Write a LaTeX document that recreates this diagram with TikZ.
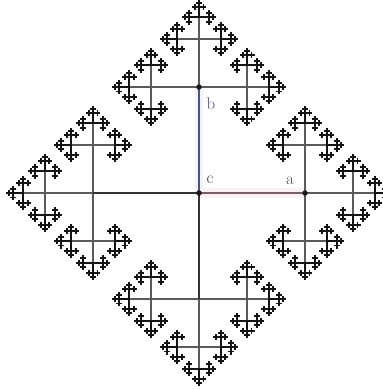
\documentclass[tikz,border=0pt]{standalone}
\usepackage{tikz}
\definecolor{linegray}{RGB}{90,90,90}
\definecolor{mauve}{RGB}{120,95,105}
\definecolor{slate}{RGB}{80,80,120}
\definecolor{pinkband}{RGB}{253,240,244}
\definecolor{blueband}{RGB}{242,242,253}
\tikzset{
  x=1pt, y=-1pt,
  branch/.style={draw=linegray, line width=1.4pt},
  leafbranch/.style={draw=black!92, line width=1.9pt},
  mainline/.style={draw=black!80, line width=1.6pt},
  junction/.style={circle, fill=black!90, inner sep=0pt, minimum size=5.5pt},
  lbl/.style={font=\fontsize{17}{17}\selectfont, inner sep=0pt},
}
\newcommand\fracbr[5]{%
  \ifnum#5>3\relax
    \draw[branch] (#1,#2) -- ++(#3,#4);
  \else
    \draw[leafbranch] (#1,#2) -- ++(#3,#4);
  \fi
  \ifnum#5>0\relax
  \begingroup
    \pgfmathsetmacro\fnx{#1+#3}%
    \pgfmathsetmacro\fny{#2+#4}%
    \pgfmathsetmacro\fdx{0.453*#3}%
    \pgfmathsetmacro\fdy{0.453*#4}%
    \pgfmathsetmacro\fmdx{-0.453*#3}%
    \pgfmathsetmacro\fmdy{-0.453*#4}%
    \pgfmathtruncatemacro\fnd{#5-1}%
    \edef\fnext{%
      \noexpand\fracbr{\fnx}{\fny}{\fdx}{\fdy}{\fnd}%
      \noexpand\fracbr{\fnx}{\fny}{\fmdy}{\fdx}{\fnd}%
      \noexpand\fracbr{\fnx}{\fny}{\fdy}{\fmdx}{\fnd}%
    }%
    \fnext
  \endgroup
  \fi}
\begin{document}
\begin{tikzpicture}
  \useasboundingbox (0,0) rectangle (383,389);
  \coordinate (c) at (199,193);
  \coordinate (a) at (305,193);
  \coordinate (b) at (199,87);
  \coordinate (l) at (93,193);
  \coordinate (d) at (199,299);
  % faint colour bands
  \draw[pinkband, line width=10pt, shift={(0,5)}] (c) -- (a);
  \draw[blueband, line width=8pt, shift={(-4,0)}] (c) -- (b);
  % fractal tree
  \fracbr{199}{193}{106}{0}{6}
  \fracbr{199}{193}{-106}{0}{6}
  \fracbr{199}{193}{0}{-106}{6}
  \fracbr{199}{193}{0}{106}{6}
  % main lines
  \draw[mainline] (c) -- (l);
  \draw[mainline] (c) -- (d);
  \draw[mauve, line width=1.6pt] (c) -- (a);
  \draw[slate, line width=1.6pt] (c) -- (b);
  % junction dots
  \node[junction] (cdot) at (c) {};
  \node[junction] (adot) at (a) {};
  \node[junction] (bdot) at (b) {};
  % labels
  \node[lbl, text=slate] (blabel) at (211,104) {b};
  \node[lbl, text=black!75] (clabel) at (210,180) {c};
  \node[lbl, text=black!70] (alabel) at (290,181) {a};
\end{tikzpicture}
\end{document}
